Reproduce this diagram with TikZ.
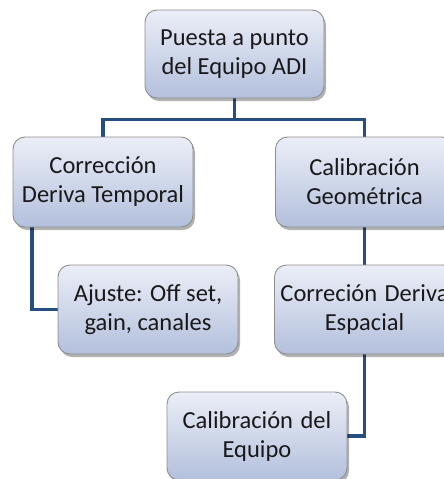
\documentclass[tikz,border=0pt]{standalone}
\usepackage{fontspec}
\setmainfont{Carlito}
\usetikzlibrary{shadows,backgrounds,calc}
\definecolor{conn}{HTML}{264E80}
\definecolor{boxtop}{HTML}{EBEEF7}
\definecolor{boxbot}{HTML}{B3C0DC}
\definecolor{boxline}{HTML}{8E8E8E}
\tikzset{
  box/.style={rectangle, rounded corners=12pt, draw=boxline, line width=0.9pt,
    top color=boxtop, bottom color=boxbot, align=center, inner sep=0pt,
    minimum width=180pt, minimum height=89pt, text=black!90,
    font=\fontsize{24.5}{29}\selectfont,
    drop shadow={shadow xshift=2pt, shadow yshift=-3pt, fill=black, opacity=0.3}},
  conline/.style={draw=conn, line width=3.2pt}
}
\begin{document}
\begin{tikzpicture}[x=1pt,y=-1pt]
\useasboundingbox (0,0) rectangle (444,479);
\clip (0,0) rectangle (444,479);
\node[box, minimum width=179pt, minimum height=88pt] (top) at (234.5,54) {Puesta a punto\\del Equipo ADI};
\node[box, minimum height=90pt] (L1) at (103,182) {Corrección\\Deriva Temporal};
\node[box, minimum width=178pt, minimum height=90pt] (R1) at (364.5,182) {Calibración\\Geométrica};
\node[box] (L2) at (148,309.5) {Ajuste: Off set,\\gain, canales};
\node[box] (R2) at (364.5,309.5) {Correción\hspace{2pt} Deriva\\Espacial};
\node[box, minimum height=88pt] (B) at (257,436) {Calibración\hspace{2pt} del\\Equipo};
\begin{scope}[on background layer]
\draw[conline] (top.south) -- ++(0,21) -| (L1.north);
\draw[conline] (top.south) -- ++(0,21) -| (R1.north);
\draw[conline] ([xshift=-71pt]L1.south) |- (L2.west);
\draw[conline] (R1.south) -- (R2.north);
\draw[conline] (R2.south) |- (B.east);
\end{scope}
\end{tikzpicture}
\end{document}
